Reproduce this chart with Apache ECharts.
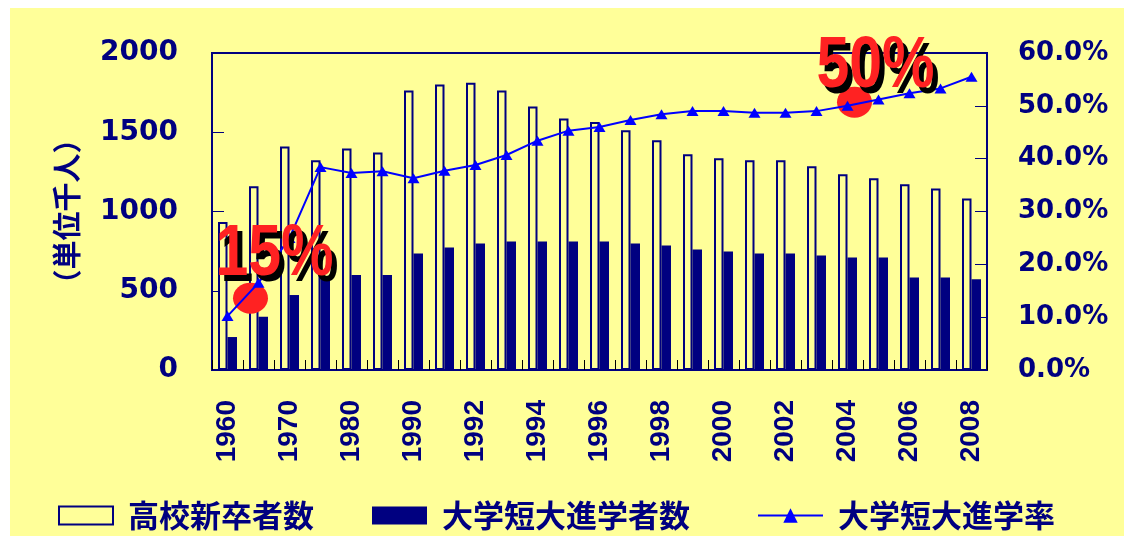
<!DOCTYPE html>
<html>
<head>
<meta charset="utf-8">
<script src="https://cdn.jsdelivr.net/npm/echarts@6.0.0/dist/echarts.min.js"></script>
<style>
html,body{margin:0;padding:0;background:#fff;}
#main{width:1124px;height:536px;}
</style>
</head>
<body>
<div id="main"></div>
<script>
// ---- data ----
const years = ['1960','1965','1970','1975','1980','1985','1990','1991','1992','1993','1994','1995','1996','1997','1998','1999','2000','2001','2002','2003','2004','2005','2006','2007','2008'];
const graduates = [934,1160,1410,1324,1397,1372,1763,1801,1813,1763,1662,1586,1565,1513,1450,1361,1336,1324,1324,1286,1235,1210,1172,1145,1082];
const entrants = [208,336,473,580,599,599,735,773,798,811,811,811,811,798,786,761,748,735,735,723,710,710,584,584,572];
const rate = [10.2,16.5,25.0,38.4,37.3,37.6,36.3,37.7,38.8,40.7,43.4,45.3,46.0,47.3,48.4,49.0,49.0,48.7,48.7,49.0,50.0,51.2,52.4,53.3,55.5];
const seriesNames = ['高校新卒者数','大学短大進学者数','大学短大進学率'];
const leftAxisName = '（単位千人）';
const annotations = [
  {year:'1965', value:13.6, text:'15%'},
  {year:'2004', value:50.7, text:'50%'}
];

const NAVY = '#000080';
const RED = '#FF2222';
const YELLOW = '#FFFF99';
const WIDE = '"DejaVu Sans", Verdana, sans-serif';
const SANS = '"Liberation Sans", Arial, sans-serif';
const CJK = '"Noto Sans CJK JP", "Noto Sans CJK SC", sans-serif';

// annotation placement (pixel nudges relative to the data point)
const circleNudge = [[-8, 0], [7, 0]];
const textNudge = [[24, -43], [21, -35]];

const legendText = {
  color: NAVY, fontFamily: CJK, fontWeight: 'bold', fontSize: 31,
  padding: [0, 0, 0, 10],
  textShadowColor: 'rgba(0,0,128,0.25)', textShadowOffsetX: 2, textShadowOffsetY: 2, textShadowBlur: 0
};
const legendBase = {top: 500, padding: 0, itemHeight: 18, textStyle: legendText};

const bgGraphic = {
  id: 'bg', type: 'rect', z: -100, silent: true,
  shape: {x: 10, y: 8, width: 1114, height: 528},
  style: {fill: YELLOW}
};

const chart = echarts.init(document.getElementById('main'), null, {renderer: 'canvas'});
chart.setOption({
  animation: false,
  backgroundColor: '#ffffff',
  graphic: [bgGraphic],
  grid: {left: 212, right: 137, top: 53, bottom: 166, show: true,
         borderColor: NAVY, borderWidth: 2, backgroundColor: 'transparent'},
  legend: [
    Object.assign({}, legendBase, {data: [seriesNames[0]], left: 58, itemWidth: 54, icon: 'rect'}),
    Object.assign({}, legendBase, {data: [seriesNames[1]], left: 372, itemWidth: 55, icon: 'rect'}),
    Object.assign({}, legendBase, {data: [seriesNames[2]], left: 757, itemWidth: 65})
  ],
  xAxis: {
    type: 'category', data: years, boundaryGap: true,
    axisLine: {lineStyle: {color: NAVY, width: 2}},
    axisTick: {show: true, inside: true, length: 10, interval: 0, lineStyle: {color: '#000', width: 1}},
    axisLabel: {interval: 1, rotate: 90, margin: 30, color: NAVY,
                fontFamily: SANS, fontWeight: 'bold', fontSize: 28}
  },
  yAxis: [{
    type: 'value', min: 0, max: 2000, interval: 500, position: 'left',
    name: leftAxisName, nameLocation: 'middle', nameRotate: 90, nameGap: 131,
    nameTextStyle: {color: NAVY, fontFamily: CJK, fontWeight: 'bold', fontSize: 29},
    axisLine: {show: true, lineStyle: {color: NAVY, width: 2}},
    axisTick: {show: true, inside: true, length: 12, lineStyle: {color: NAVY, width: 1}},
    axisLabel: {margin: 34, color: NAVY, fontFamily: WIDE, fontWeight: 'bold', fontSize: 28,
                formatter: v => String(v)},
    splitLine: {show: false}
  }, {
    type: 'value', min: 0, max: 60, interval: 10, position: 'right',
    axisLine: {show: true, lineStyle: {color: NAVY, width: 2}},
    axisTick: {show: true, inside: true, length: 12, lineStyle: {color: NAVY, width: 1}},
    axisLabel: {margin: 31, color: NAVY, fontFamily: WIDE, fontWeight: 'bold', fontSize: 26,
                formatter: v => v.toFixed(1) + '%'},
    splitLine: {show: false}
  }],
  series: [{
    name: seriesNames[0], type: 'bar', data: graduates, barWidth: 9.5, barGap: '0%',
    itemStyle: {color: YELLOW, borderColor: NAVY, borderWidth: 2}
  }, {
    name: seriesNames[1], type: 'bar', data: entrants, barWidth: 9.5,
    itemStyle: {color: NAVY}
  }, {
    name: seriesNames[2], type: 'line', yAxisIndex: 1, data: rate, z: 5,
    symbol: 'triangle', symbolSize: [12, 10],
    lineStyle: {color: '#0000FF', width: 2}, itemStyle: {color: '#0000FF'},
    markPoint: {
      silent: true,
      label: {show: false},
      data: annotations.map((a, i) => ({
        coord: [a.year, a.value],
        symbol: 'circle', symbolSize: [35, 31],
        symbolOffset: circleNudge[i],
        itemStyle: {color: RED}
      }))
    }
  }]
});

// big annotation texts (with a hard black drop shadow), placed from the library's coordinate conversion
const textGraphics = [];
annotations.forEach((a, i) => {
  const p = chart.convertToPixel({seriesIndex: 2}, [a.year, a.value]);
  const cx = p[0] + circleNudge[i][0] + textNudge[i][0];
  const cy = p[1] + circleNudge[i][1] + textNudge[i][1];
  [['#000000', 5, 6, 99], [RED, 0, 0, 100]].forEach(([fill, dx, dy, z], k) => {
    textGraphics.push({
      id: 'ann' + i + '_' + k, type: 'text', z: z, silent: true,
      x: cx + dx, y: cy + dy, scaleX: 0.82,
      style: {
        text: a.text, x: 0, y: 0, align: 'center', verticalAlign: 'middle',
        fontFamily: SANS, fontWeight: 'bold', fontSize: 72, fill: fill
      }
    });
  });
});
chart.setOption({graphic: [bgGraphic].concat(textGraphics)});
</script>
</body>
</html>
